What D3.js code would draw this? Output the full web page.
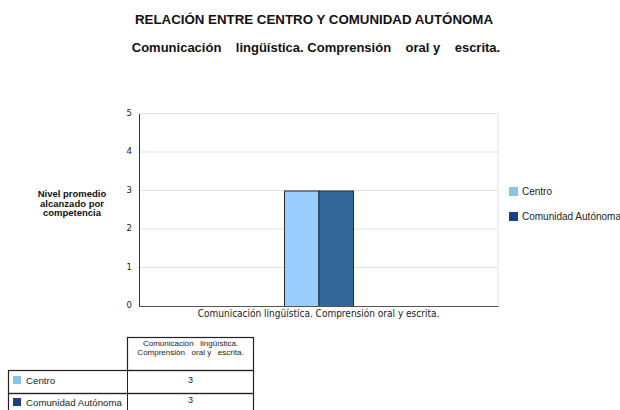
<!DOCTYPE html>
<html>
<head>
<meta charset="utf-8">
<script src="https://cdn.jsdelivr.net/npm/d3@7"></script>
<style>
  body { margin: 0; background: #fff; }
  svg { display: block; }
</style>
</head>
<body>
<div id="chart"></div>
<script>
var categories = ["Comunicación lingüística. Comprensión oral y escrita."];
var series = ["Centro", "Comunidad Autónoma"];
var centroValues = [3];
var comunidadValues = [3];
var yTicks = [0, 1, 2, 3, 4, 5];

var W = 620, H = 410;
var plot = { left: 139, right: 498, top: 113.5, bottom: 306 };

var svg = d3.select("#chart").append("svg")
    .attr("width", W)
    .attr("height", H)
    .style("font-family", "'Liberation Sans', Arial, sans-serif");

// titles
svg.append("text")
    .attr("x", 314).attr("y", 24)
    .attr("text-anchor", "middle")
    .attr("font-size", 13.3).attr("font-weight", "bold")
    .attr("fill", "#111")
    .text("RELACIÓN ENTRE CENTRO Y COMUNIDAD AUTÓNOMA");

svg.append("text")
    .attr("x", 316).attr("y", 52)
    .attr("text-anchor", "middle")
    .attr("font-size", 13).attr("font-weight", "bold")
    .attr("fill", "#111")
    .attr("xml:space", "preserve")
    .style("white-space", "pre")
    .text("Comunicación    lingüística. Comprensión    oral y    escrita.");

var x0 = d3.scaleBand()
    .domain(categories)
    .range([plot.left, plot.right]);

var x1 = d3.scaleBand()
    .domain(series)
    .range([x0.bandwidth() / 2 - 34.5, x0.bandwidth() / 2 + 34.5]);

var y = d3.scaleLinear()
    .domain([0, 5])
    .range([plot.bottom, plot.top]);

// grid
svg.append("g")
    .selectAll("line")
    .data(yTicks.slice(1))
    .enter().append("line")
    .attr("x1", plot.left).attr("x2", plot.right)
    .attr("y1", function(d) { return y(d); })
    .attr("y2", function(d) { return y(d); })
    .attr("stroke", "#e2e2e2").attr("stroke-width", 1);

svg.append("line")
    .attr("x1", plot.right).attr("x2", plot.right)
    .attr("y1", plot.top).attr("y2", plot.bottom)
    .attr("stroke", "#e2e2e2");

// bars
var data = categories.map(function(c, i) {
    return { cat: c, vals: [
        { key: series[0], value: centroValues[i], fill: "#99ccff" },
        { key: series[1], value: comunidadValues[i], fill: "#336699" }
    ] };
});

svg.append("g").selectAll("g")
    .data(data)
    .enter().append("g")
    .attr("transform", function(d) { return "translate(" + x0(d.cat) + ",0)"; })
    .selectAll("rect")
    .data(function(d) { return d.vals; })
    .enter().append("rect")
    .attr("x", function(d) { return x1(d.key) + 0.5; })
    .attr("y", function(d) { return y(d.value) + 0.5; })
    .attr("width", x1.bandwidth())
    .attr("height", function(d) { return plot.bottom - y(d.value); })
    .attr("fill", function(d) { return d.fill; })
    .attr("stroke", "#2a2a2a").attr("stroke-width", 1);

// axes
var yAxis = svg.append("g")
    .attr("transform", "translate(" + plot.left + ",0)")
    .call(d3.axisLeft(y).tickValues(yTicks).tickFormat(d3.format("d")).tickSize(0).tickPadding(7));
yAxis.select(".domain").attr("stroke", "#333");
yAxis.selectAll("text")
    .style("font-family", "'DejaVu Sans', sans-serif")
    .style("font-size", "8.5px").attr("fill", "#222")
    .attr("dy", "0.2em");

var xAxis = svg.append("g")
    .attr("transform", "translate(0," + plot.bottom + ")")
    .call(d3.axisBottom(x0).tickSize(0).tickPadding(4));
xAxis.select(".domain").attr("stroke", "#555");
xAxis.selectAll("text")
    .style("font-family", "'DejaVu Sans Condensed', 'DejaVu Sans', sans-serif")
    .style("font-size", "10px").attr("fill", "#222");

// y label
var ylab = svg.append("text")
    .attr("text-anchor", "middle")
    .attr("font-size", 9.5).attr("font-weight", "bold")
    .attr("fill", "#111");
["Nivel promedio", "alcanzado por", "competencia"].forEach(function(t, i) {
    ylab.append("tspan").attr("x", 72).attr("y", 197 + i * 9.5).text(t);
});

// legend
var legendColors = ["#88c4e4", "#1b3f80"];
var legend = svg.append("g").selectAll("g")
    .data(series)
    .enter().append("g")
    .attr("transform", function(d, i) { return "translate(509," + (187 + i * 25) + ")"; });
legend.append("rect")
    .attr("width", 9).attr("height", 9)
    .attr("fill", function(d, i) { return legendColors[i]; });
legend.append("text")
    .attr("x", 13).attr("y", 8)
    .attr("font-size", 10).attr("fill", "#222")
    .text(function(d) { return d; });

// data table
var tbl = svg.append("g").attr("stroke", "#222").attr("fill", "none");
tbl.append("rect").attr("x", 127.5).attr("y", 337.5).attr("width", 126).attr("height", 33).attr("stroke-width", 1.2);
tbl.append("rect").attr("x", 8.5).attr("y", 370.5).attr("width", 245).attr("height", 23).attr("stroke-width", 1.2);
tbl.append("rect").attr("x", 8.5).attr("y", 393.5).attr("width", 245).attr("height", 30).attr("stroke-width", 1.2);
tbl.append("line").attr("x1", 127.5).attr("x2", 127.5).attr("y1", 370).attr("y2", 410);

var head = svg.append("text")
    .attr("text-anchor", "middle")
    .attr("font-size", 8).attr("fill", "#222")
    .attr("xml:space", "preserve")
    .style("white-space", "pre");
["Comunicación   lingüística.", "Comprensión   oral y   escrita."].forEach(function(t, i) {
    head.append("tspan").attr("x", 190.5).attr("y", 346 + i * 8.5).text(t);
});

var rowVals = [centroValues[0], comunidadValues[0]];
var rowY = [370, 393];
series.forEach(function(s, i) {
    svg.append("rect").attr("x", 13).attr("y", rowY[i] + 6 + (i ? -1 : 0))
        .attr("width", 8).attr("height", 8).attr("fill", legendColors[i]);
    svg.append("text").attr("x", 26).attr("y", rowY[i] + 14 + (i ? -1 : 0))
        .attr("font-size", 9.7).attr("fill", "#222").text(s);
    svg.append("text").attr("x", 190.5).attr("y", rowY[i] + (i ? 10 : 13))
        .attr("text-anchor", "middle")
        .attr("font-size", 9).attr("fill", "#222").text(rowVals[i]);
});
</script>
</body>
</html>
